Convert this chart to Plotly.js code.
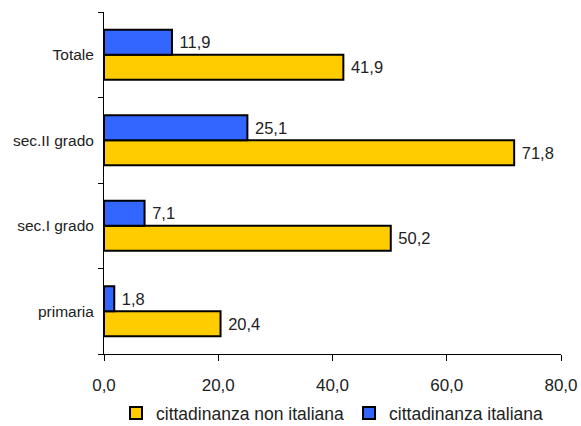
<!DOCTYPE html>
<html>
<head>
<meta charset="utf-8">
<script src="https://cdn.plot.ly/plotly-3.0.1.min.js"></script>
<style>html,body{margin:0;padding:0;background:#fff;}#chart{width:581px;height:426px;}</style>
</head>
<body>
<div id="chart"></div>
<script>
// School levels, bottom to top
const categories = ['primaria', 'sec.I grado', 'sec.II grado', 'Totale'];
const nonItaliana = [20.4, 50.2, 71.8, 41.9];
const italiana = [1.8, 7.1, 25.1, 11.9];
const xTicks = [0, 20, 40, 60, 80];

const family = 'Liberation Sans, Arial, sans-serif';
const ink = '#222';

function barTrace(name, values, color) {
  return {
    type: 'bar',
    orientation: 'h',
    name: name,
    y: categories,
    x: values,
    marker: {color: color, line: {color: '#000', width: 2}},
    text: values,
    // leading no-break space keeps the value a little clear of the bar end
    texttemplate: '\u00a0%{x:.1f}',
    textposition: 'outside',
    textfont: {family: family, size: 16.5, color: ink},
    cliponaxis: false,
    hoverinfo: 'skip'
  };
}

const data = [
  barTrace('cittadinanza non italiana', nonItaliana, '#FFCC00'),
  barTrace('cittadinanza italiana', italiana, '#3366FF')
];

const layout = {
  width: 581,
  height: 426,
  margin: {l: 104, r: 20, t: 12, b: 72, autoexpand: false},
  paper_bgcolor: '#fff',
  plot_bgcolor: '#fff',
  separators: ',.',
  font: {family: family, size: 16, color: ink},
  barmode: 'group',
  bargap: 0.415,
  bargroupgap: 0,
  showlegend: true,
  legend: {
    orientation: 'h',
    x: 0.5, xanchor: 'center',
    yref: 'container',
    y: 0.0305, yanchor: 'middle',
    font: {family: family, size: 17.5, color: ink},
    traceorder: 'normal'
  },
  xaxis: {
    range: [0, 80],
    tickvals: xTicks,
    tickformat: '.1f',
    automargin: false,
    showgrid: false,
    zeroline: false,
    showline: true,
    linecolor: '#000',
    linewidth: 1,
    ticks: 'outside',
    ticklen: 6,
    tickcolor: '#000',
    ticklabelstandoff: 10,
    tickfont: {family: family, size: 17, color: ink},
    fixedrange: true
  },
  yaxis: {
    type: 'category',
    categoryorder: 'array',
    categoryarray: categories,
    automargin: false,
    showgrid: false,
    zeroline: false,
    showline: true,
    linecolor: '#000',
    linewidth: 1,
    ticks: 'outside',
    tickson: 'boundaries',
    ticklen: 5,
    tickcolor: '#000',
    ticklabelstandoff: 6,
    tickfont: {family: family, size: 15.5, color: ink},
    fixedrange: true
  }
};

Plotly.newPlot('chart', data, layout, {displayModeBar: false, staticPlot: true});
</script>
</body>
</html>
